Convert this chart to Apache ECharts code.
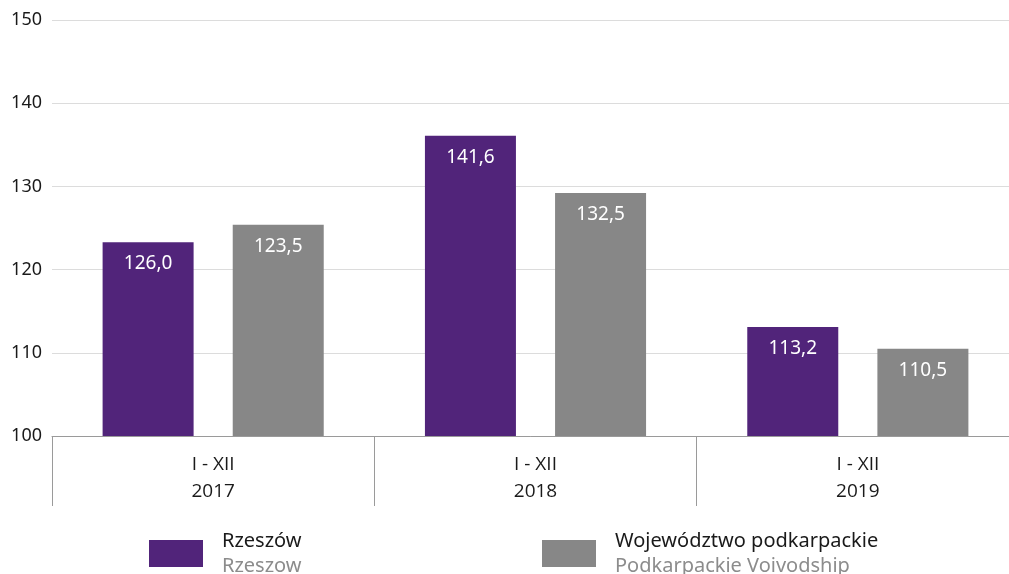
<!DOCTYPE html>
<html>
<head>
<meta charset="utf-8">
<script src="https://cdn.jsdelivr.net/npm/echarts@6/dist/echarts.min.js"></script>
<style>
  html, body { margin: 0; padding: 0; background: #fff; }
  #chart { width: 1009px; height: 574px; }
</style>
</head>
<body>
<div id="chart"></div>
<script>
  // categories on the x axis
  var categories = ['I - XII\n2017', 'I - XII\n2018', 'I - XII\n2019'];
  // bar heights as drawn in the picture
  var rzeszow = [123.3, 136.1, 113.1];
  var podkarpackie = [125.4, 129.2, 110.5];
  // values printed on the bars
  var rzeszowLabels = ['126,0', '141,6', '113,2'];
  var podkarpackieLabels = ['123,5', '132,5', '110,5'];
  var seriesNames = ['Rzeszów', 'Województwo podkarpackie'];
  var seriesNamesEn = ['Rzeszow', 'Podkarpackie Voivodship'];

  var font = 'Noto Sans';
  var dom = document.getElementById('chart');
  var myChart = echarts.init(dom);

  function legendFor(i, left) {
    return {
      data: [seriesNames[i]],
      left: left,
      top: 531,
      itemWidth: 54,
      itemHeight: 27,
      itemGap: 0,
      padding: 0,
      selectedMode: false,
      icon: 'rect',
      formatter: function (name) {
        return '{a|' + name + '}\n{b|' + seriesNamesEn[i] + '}';
      },
      textStyle: {
        padding: [0, 0, 0, 14],
        rich: {
          a: { fontFamily: font, fontSize: 20, color: '#1a1a1a', lineHeight: 25 },
          b: { fontFamily: font, fontSize: 20, color: '#8c8c8c', lineHeight: 25 }
        }
      }
    };
  }

  var option = {
    backgroundColor: '#fff',
    animation: false,
    grid: { left: 52, width: 967, top: 20, bottom: 138, outerBoundsMode: 'none' },
    legend: [legendFor(0, 149), legendFor(1, 542)],
    xAxis: {
      type: 'category',
      data: categories,
      axisLine: { lineStyle: { color: '#9a9a9a', width: 1 } },
      axisTick: { show: true, length: 70, lineStyle: { color: '#9a9a9a' } },
      axisLabel: {
        fontFamily: 'Open Sans',
        fontSize: 19,
        color: '#1a1a1a',
        lineHeight: 27,
        margin: 15
      }
    },
    yAxis: {
      type: 'value',
      min: 100,
      max: 150,
      interval: 10,
      axisLine: { show: false },
      axisTick: { show: false },
      splitLine: { lineStyle: { color: '#dcdcdc' } },
      axisLabel: { fontFamily: font, fontSize: 18, color: '#1a1a1a', margin: 10 }
    },
    series: [
      {
        name: seriesNames[0],
        type: 'bar',
        data: rzeszow,
        barWidth: 91,
        barGap: '43%',
        itemStyle: { color: '#51247a' },
        label: {
          show: true,
          position: 'insideTop',
          distance: 12,
          fontFamily: font,
          fontSize: 19,
          color: '#fff',
          formatter: function (p) { return rzeszowLabels[p.dataIndex]; }
        }
      },
      {
        name: seriesNames[1],
        type: 'bar',
        data: podkarpackie,
        barWidth: 91,
        itemStyle: { color: '#878787' },
        label: {
          show: true,
          position: 'insideTop',
          distance: 12,
          fontFamily: font,
          fontSize: 19,
          color: '#fff',
          formatter: function (p) { return podkarpackieLabels[p.dataIndex]; }
        }
      }
    ]
  };
  myChart.setOption(option);
</script>
</body>
</html>
